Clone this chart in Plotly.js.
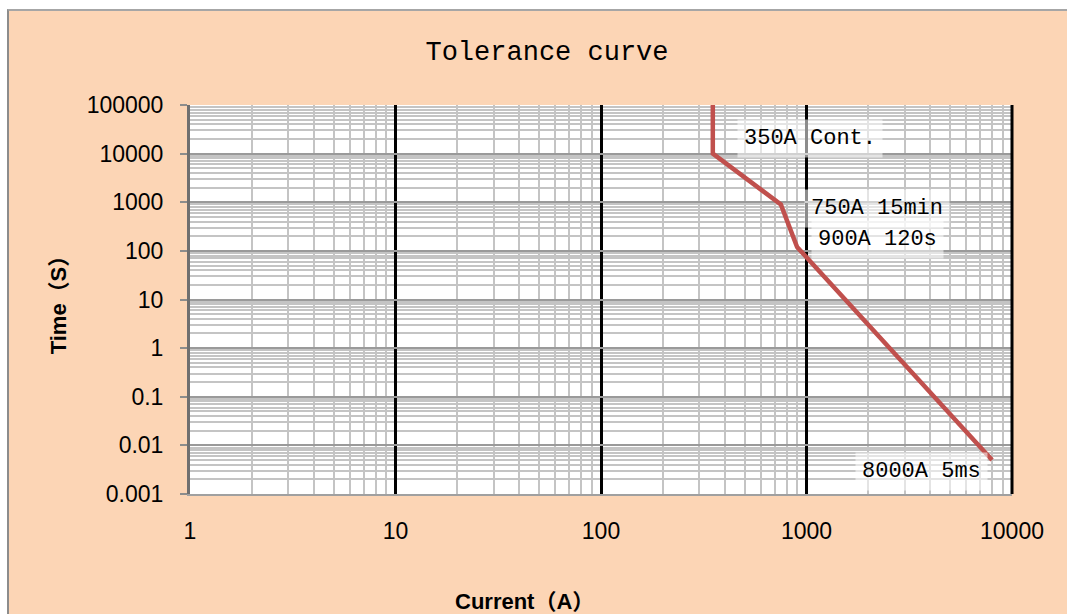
<!DOCTYPE html>
<html>
<head>
<meta charset="utf-8">
<script src="https://cdn.plot.ly/plotly-3.0.1.min.js"></script>
<style>
  html, body { margin: 0; padding: 0; background: #ffffff; }
  #chart { position: absolute; left: 7px; top: 9px; width: 1058px; height: 603px;
           border-left: 2px solid #8c8c8c; border-top: 2px solid #a6a6a6; }
</style>
</head>
<body>
<div id="chart"></div>
<script>
// Data
const currentA = [350, 350, 750, 900, 8000];
const timeS = [100000, 10000, 900, 120, 0.005];

const xTickVals = [1, 10, 100, 1000, 10000];
const xTickText = ['1', '10', '100', '1000', '10000'];
const yTickVals = [0.001, 0.01, 0.1, 1, 10, 100, 1000, 10000, 100000];
const yTickText = ['0.001', '0.01', '0.1', '1', '10', '100', '1000', '10000', '100000'];

const labelTexts = ['350A Cont.', '750A 15min', '900A 120s', '8000A 5ms'];

const peach = '#FCD5B5';
const monoFont = 'Liberation Mono, DejaVu Sans Mono, monospace';
const sansFont = 'Liberation Sans, Arial, sans-serif';

const trace = {
  x: currentA,
  y: timeS,
  type: 'scatter',
  mode: 'lines',
  line: { color: '#C0504D', width: 4.5 },
  hoverinfo: 'x+y'
};

const labelPos = [
  { x: 0.754, y: 0.913 },
  { x: 0.836, y: 0.735 },
  { x: 0.836, y: 0.653 },
  { x: 0.8905, y: 0.0566 }
];

const annotations = labelTexts.map((t, i) => ({
  text: t,
  xref: 'paper', yref: 'paper',
  x: labelPos[i].x, y: labelPos[i].y,
  xanchor: 'center', yanchor: 'middle',
  showarrow: false,
  font: { family: monoFont, size: 22, color: '#000' },
  bgcolor: 'rgba(255,255,255,0.55)',
  borderpad: 6
}));

annotations.push({
  text: '<b>Current（A）</b>',
  xref: 'paper', yref: 'paper',
  x: (524 - 190) / 822, y: (494 - 601) / 389,
  xanchor: 'center', yanchor: 'middle',
  showarrow: false,
  font: { family: 'Liberation Sans, Noto Sans CJK SC, sans-serif', size: 22, color: '#000' }
});

const layout = {
  width: 1058,
  height: 603,
  paper_bgcolor: peach,
  plot_bgcolor: '#ffffff',
  margin: { l: 181, r: 55, t: 94, b: 120, pad: 0 },
  showlegend: false,
  title: {
    text: 'Tolerance curve',
    x: 0.5085, xanchor: 'center',
    y: 0.935, yanchor: 'middle',
    font: { family: monoFont, size: 27, color: '#000' }
  },
  xaxis: {
    type: 'log',
    range: [0, 4],
    tickmode: 'array',
    tickvals: xTickVals,
    ticktext: xTickText,
    ticks: '',
    ticklabelstandoff: 15,
    tickfont: { family: sansFont, size: 23, color: '#000' },
    showgrid: true,
    gridcolor: '#000000',
    gridwidth: 3,
    showline: true,
    linecolor: '#a0a0a0',
    linewidth: 2,
    minor: { dtick: 'D1', showgrid: true, gridcolor: '#c4c4c4', gridwidth: 2, ticks: '' },
    zeroline: false,
    fixedrange: true
  },
  yaxis: {
    type: 'log',
    range: [-3, 5],
    tickmode: 'array',
    tickvals: yTickVals,
    ticktext: yTickText,
    ticks: 'outside',
    ticklen: 7,
    tickwidth: 2,
    tickcolor: '#8c8c8c',
    ticklabelstandoff: 12,
    tickfont: { family: sansFont, size: 23, color: '#000' },
    showgrid: true,
    gridcolor: '#9a9a9a',
    gridwidth: 2,
    showline: true,
    linecolor: '#6f6f6f',
    linewidth: 3,
    minor: { dtick: 'D1', showgrid: true, gridcolor: '#c4c4c4', gridwidth: 2, ticks: '' },
    title: {
      text: '<b>Time（S）</b>',
      standoff: 14,
      font: { family: 'Liberation Sans, Noto Sans CJK SC, sans-serif', size: 22, color: '#000' }
    },
    zeroline: false,
    fixedrange: true
  },
  shapes: [
    { type: 'line', xref: 'paper', yref: 'paper', x0: 1, x1: 1, y0: 0, y1: 1,
      line: { color: '#000000', width: 3 }, layer: 'above' }
  ],
  annotations: annotations
};

Plotly.newPlot('chart', [trace], layout, { displayModeBar: false, staticPlot: true });
</script>
</body>
</html>
